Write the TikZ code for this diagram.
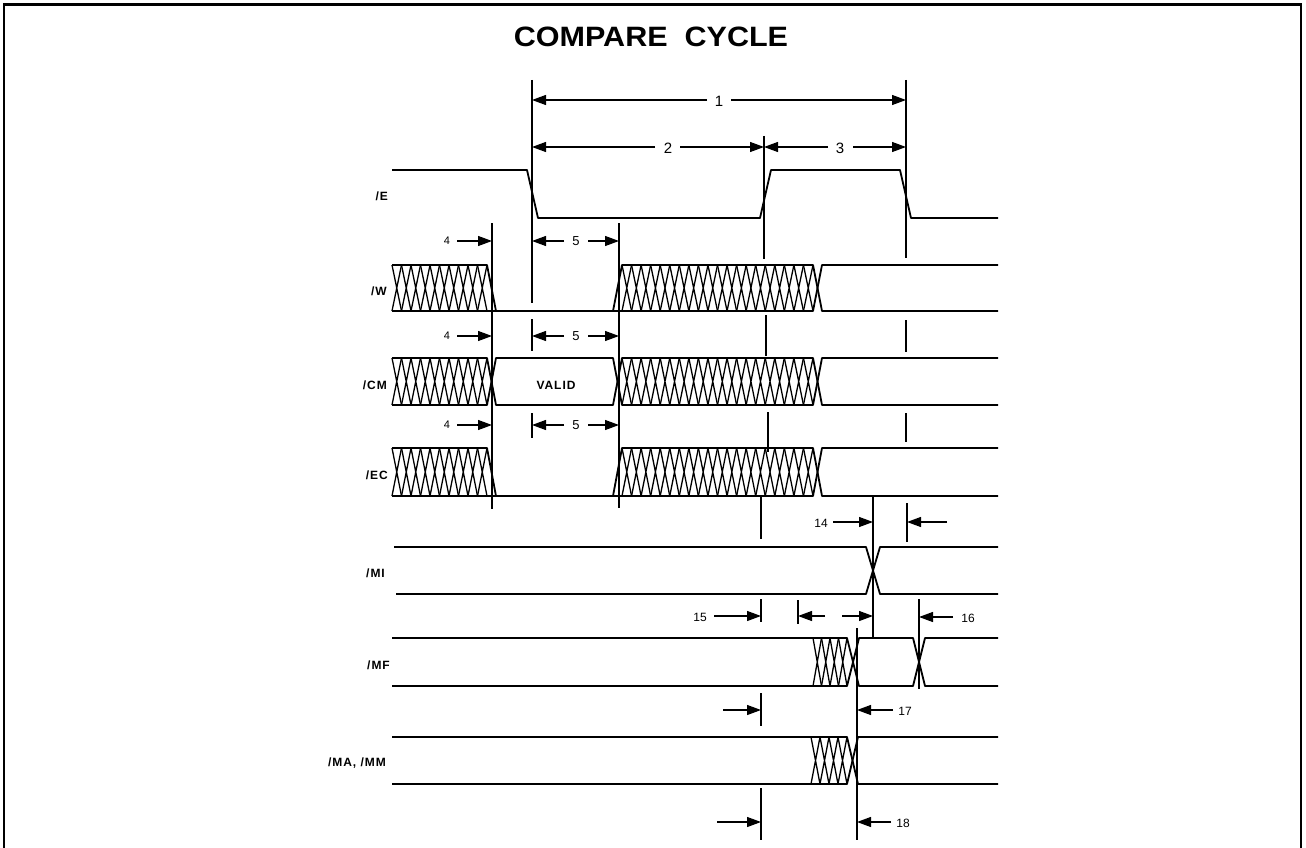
\documentclass[tikz,border=0pt]{standalone}
\usepackage{fontspec}
\usepackage{graphicx}
\setmainfont{Liberation Sans}
\newfontfamily\lblfont[LetterSpace=8]{Liberation Sans}
\usetikzlibrary{arrows.meta}
\newcommand\hatchzz[4]{%
  \pgfmathtruncatemacro\hzN{max(1,round((#2-#1)/9.5))}%
  \pgfmathsetmacro\hzW{(#2-#1)/\hzN}%
  \foreach \hzK in {1,...,\hzN}{%
    \pgfmathsetmacro\hzA{#1+(\hzK-1)*\hzW}%
    \pgfmathsetmacro\hzB{#1+\hzK*\hzW}%
    \draw[hl] (\hzA,#3) -- (\hzB,#4) (\hzA,#4) -- (\hzB,#3);
  }%
}
\begin{document}
\begin{tikzpicture}[x=1pt,y=-1pt,
  sig/.style={line width=1.8pt,line join=round},
  vl/.style={line width=1.2pt},
  hl/.style={line width=1.3pt},
  dim/.style={line width=1.2pt,-{Triangle[length=14pt,width=10pt]}},
  numA/.style={font=\fontsize{15}{15}\selectfont,inner sep=0},
  numB/.style={font=\fontsize{13}{13}\selectfont,inner sep=0},
  numC/.style={font=\fontsize{11}{11}\selectfont,inner sep=0},
  numD/.style={font=\fontsize{12}{12}\selectfont,inner sep=0},
  siglbl/.style={font=\lblfont\bfseries\fontsize{12}{12}\selectfont,anchor=east,inner sep=0}]
\useasboundingbox (0,0) rectangle (1306,848);
% frame
\draw[line width=2.4pt] (4,848) -- (4,5);
\draw[line width=2.8pt] (1301,848) -- (1301,5);
\draw[line width=3pt] (3,5) -- (1302,5);
% title
\node[inner sep=0,font=\bfseries\fontsize{28}{28}\selectfont] (title) at (651,37) {\scalebox{1.09}[1]{COMPARE\ \ CYCLE}};
% signal labels
\node[siglbl] (lE) at (388,196) {/E};
\node[siglbl] (lW) at (387,291) {/W};
\node[siglbl] (lCM) at (387,385) {/CM};
\node[siglbl] (lEC) at (388,475) {/EC};
\node[siglbl] (lMI) at (385,573) {/MI};
\node[siglbl] (lMF) at (390,665) {/MF};
\node[siglbl] (lMA) at (386,763) {/MA, /MM};
% /E
\draw[sig] (392,170) -- (527,170) -- (538,218) -- (760,218) -- (771,170) -- (900,170) -- (911,218) -- (998,218);
% /W
\hatchzz{392}{487}{265}{311}
\hatchzz{622}{813}{265}{311}
\draw[sig] (392,265) -- (487,265) -- (496,311);
\draw[sig] (392,311) -- (813,311) -- (822,265) -- (998,265);
\draw[sig] (613,311) -- (622,265) -- (813,265) -- (822,311) -- (998,311);
% /CM
\hatchzz{392}{487}{358}{405}
\hatchzz{622}{813}{358}{405}
\draw[sig] (392,358) -- (487,358) -- (496,405) -- (613,405) -- (622,358) -- (813,358) -- (822,405) -- (998,405);
\draw[sig] (392,405) -- (487,405) -- (496,358) -- (613,358) -- (622,405) -- (813,405) -- (822,358) -- (998,358);
\node[font=\lblfont\bfseries\fontsize{12}{12}\selectfont,inner sep=0] (valid) at (556,385) {VALID};
% /EC
\hatchzz{392}{487}{448}{496}
\hatchzz{622}{813}{448}{496}
\draw[sig] (392,448) -- (487,448) -- (496,496);
\draw[sig] (392,496) -- (813,496) -- (822,448) -- (998,448);
\draw[sig] (613,496) -- (622,448) -- (813,448) -- (822,496) -- (998,496);
% /MI
\draw[sig] (394,547) -- (866,547) -- (880,594) -- (998,594);
\draw[sig] (396,594) -- (866,594) -- (880,547) -- (998,547);
% /MF
\hatchzz{813}{847}{638}{686}
\draw[sig] (392,638) -- (847,638) -- (859,686) -- (913,686) -- (925,638) -- (998,638);
\draw[sig] (392,686) -- (847,686) -- (859,638) -- (913,638) -- (925,686) -- (998,686);
% /MA /MM
\hatchzz{811}{847}{737}{784}
\draw[sig] (392,737) -- (847,737) -- (858,784) -- (998,784);
\draw[sig] (392,784) -- (847,784) -- (858,737) -- (998,737);
% vertical reference lines
\draw[vl] (532,80) -- (532,303) (532,319) -- (532,351) (532,413) -- (532,438);
\draw[vl] (492,223) -- (492,509);
\draw[vl] (619,223) -- (619,508);
\draw[vl] (764,136) -- (764,259) (766,315) -- (766,356) (768,412) -- (768,452);
\draw[vl] (761,496) -- (761,539) (761,599) -- (761,622) (761,693) -- (761,726) (761,788) -- (761,840);
\draw[vl] (906,80) -- (906,258) (906,320) -- (906,352) (906,413) -- (906,442);
\draw[vl] (873,496) -- (873,637);
\draw[vl] (907,503) -- (907,542);
\draw[vl] (798,600) -- (798,624);
\draw[vl] (919,599) -- (919,689);
\draw[vl] (857,628) -- (857,840);
% dimension 1,2,3
\node[numA] (d1) at (719,101) {1};
\draw[dim] (707,100) -- (532,100);
\draw[dim] (731,100) -- (906,100);
\node[numA] (d2) at (668,148) {2};
\draw[dim] (655,147) -- (532,147);
\draw[dim] (680,147) -- (764,147);
\node[numA] (d3) at (840,148) {3};
\draw[dim] (828,147) -- (764,147);
\draw[dim] (853,147) -- (906,147);
% 4 and 5 (three rows)
\foreach \yy in {241,336,425}{
  \node[numC] at (447,\yy) {4};
  \draw[dim] (457,\yy) -- (492,\yy);
  \node[numB] at (576,\yy) {5};
  \draw[dim] (564,\yy) -- (532,\yy);
  \draw[dim] (588,\yy) -- (619,\yy);
}
% 14
\node[numD] (d14) at (821,523) {14};
\draw[dim] (833,522) -- (873,522);
\draw[dim] (947,522) -- (907,522);
% 15
\node[numD] (d15) at (700,617) {15};
\draw[dim] (714,616) -- (761,616);
\draw[dim] (825,616) -- (798,616);
\draw[dim] (842,616) -- (873,616);
% 16
\node[numD] (d16) at (968,618) {16};
\draw[dim] (953,617) -- (919,617);
% 17
\draw[dim] (723,710) -- (761,710);
\node[numD] (d17) at (905,711) {17};
\draw[dim] (893,710) -- (857,710);
% 18
\draw[dim] (717,822) -- (761,822);
\node[numD] (d18) at (903,823) {18};
\draw[dim] (891,822) -- (857,822);
\end{tikzpicture}
\end{document}
